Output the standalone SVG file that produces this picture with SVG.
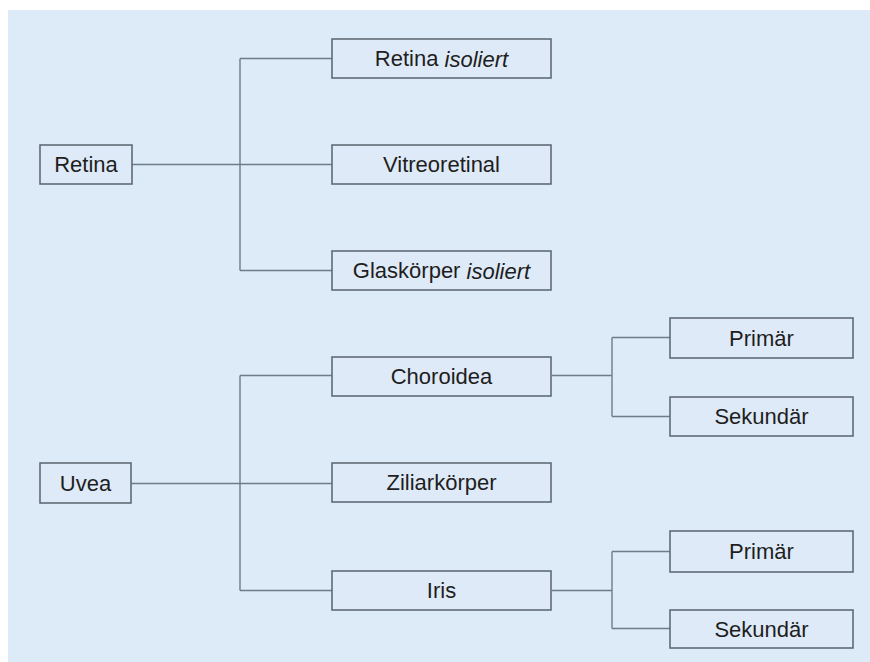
<svg xmlns="http://www.w3.org/2000/svg" width="870" height="662" viewBox="0 0 870 662">
<style>
.bx{fill:#deeaf7;stroke:#5f6b74;stroke-width:1.6}
.t{font-family:"Liberation Sans",Arial,sans-serif;font-size:22px;fill:#1e1e1e;text-anchor:middle;dominant-baseline:central}
.c{fill:none;stroke:#6e7c86;stroke-width:1.4}
</style>
<rect x="0" y="0" width="870" height="662" fill="#ffffff"/>
<rect x="8" y="10" width="862" height="652" fill="#ddeaf8"/>
<g id="connectors">
<path class="c" d="M132 164.5H332M240 58.5V270.5M240 58.5H332M240 270.5H332"/>
<path class="c" d="M131 483.5H332M240 375.5V590.5M240 375.5H332M240 590.5H332"/>
<path class="c" d="M552 375.5H612M612 337.5V416.5M612 337.5H670M612 416.5H670"/>
<path class="c" d="M552 590.5H612M612 551.5V628.5M612 551.5H670M612 628.5H670"/>
</g>
<g id="retina"><rect class="bx" x="40" y="145" width="92" height="39"/><text class="t" x="86" y="164.5">Retina</text></g>
<g id="retina-isoliert"><rect class="bx" x="332" y="39" width="219" height="39"/><text class="t" x="441.5" y="58.5">Retina <tspan font-style="italic">isoliert</tspan></text></g>
<g id="vitreoretinal"><rect class="bx" x="332" y="145" width="219" height="39"/><text class="t" x="441.5" y="164.5">Vitreoretinal</text></g>
<g id="glaskoerper"><rect class="bx" x="332" y="251" width="219" height="39"/><text class="t" x="441.5" y="270.5">Glaskörper <tspan font-style="italic">isoliert</tspan></text></g>
<g id="uvea"><rect class="bx" x="40" y="463" width="91" height="40"/><text class="t" x="85.5" y="483">Uvea</text></g>
<g id="choroidea"><rect class="bx" x="332" y="357" width="219" height="39"/><text class="t" x="441.5" y="376.5">Choroidea</text></g>
<g id="ziliarkoerper"><rect class="bx" x="332" y="463" width="219" height="39"/><text class="t" x="441.5" y="482.5">Ziliarkörper</text></g>
<g id="iris"><rect class="bx" x="332" y="571" width="219" height="39"/><text class="t" x="441.5" y="590.5">Iris</text></g>
<g id="choroidea-primaer"><rect class="bx" x="670" y="318" width="183" height="40"/><text class="t" x="761.5" y="338">Primär</text></g>
<g id="choroidea-sekundaer"><rect class="bx" x="670" y="397" width="183" height="39"/><text class="t" x="761.5" y="416.5">Sekundär</text></g>
<g id="iris-primaer"><rect class="bx" x="670" y="531" width="183" height="41"/><text class="t" x="761.5" y="551.5">Primär</text></g>
<g id="iris-sekundaer"><rect class="bx" x="670" y="610" width="183" height="38"/><text class="t" x="761.5" y="629">Sekundär</text></g>
</svg>
